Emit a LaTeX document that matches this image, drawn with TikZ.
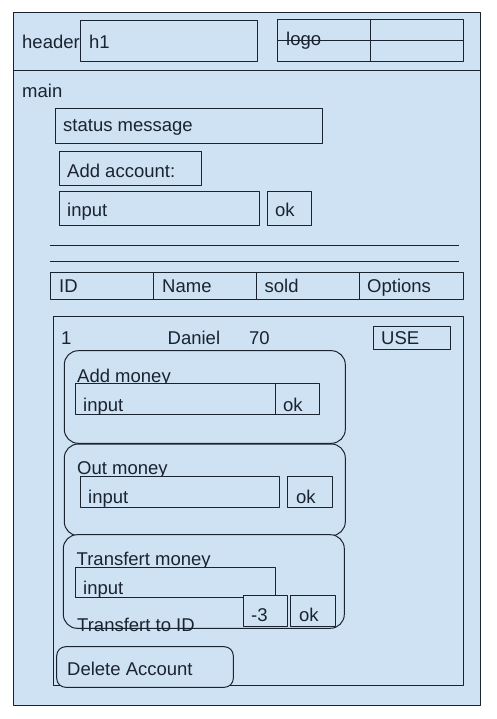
\documentclass[tikz,border=0pt]{standalone}
\usepackage{fontspec}
\setmainfont{Liberation Sans}
\definecolor{paneblue}{HTML}{CFE2F3}
\definecolor{ink}{HTML}{1A2330}
\tikzset
{
  panel/.style={draw=ink,fill=paneblue,line width=1pt},
  roundpanel/.style={panel,rounded corners=14pt},
  rule/.style={draw=ink,line width=1pt},
  txt/.style={anchor=base west,inner sep=0pt,text=ink,font=\fontsize{18.5}{22}\selectfont}
}

\begin{document}
\begin{tikzpicture}[x=1pt,y=-1pt,line join=round]
  \useasboundingbox (0,0) rectangle (496,719);
  % page frame
  \draw[panel] (13,13) rectangle (480,705);
  \draw[rule] (13,70.7) -- (480,70.7);
  % header
  \node[txt] (header) at (22,49) {header};
  \draw[panel] (80.3,20.3) rectangle (257.3,61.3);
  \node[txt] (title) at (89,49) {h1};
  \draw[panel] (277.3,19.7) rectangle (463.3,61.3);
  \node[txt] (logo) at (286,46) {logo};
  \draw[rule] (277.3,40.3) -- (463.3,40.3);
  \draw[rule] (370.3,19.7) -- (370.3,61.3);
  % main
  \node[txt] (main) at (22,97.3) {main};
  \draw[panel] (55.3,108.3) rectangle (322.7,143.3);
  \node[txt] (status) at (63,131.7) {status message};
  \draw[panel] (59.3,151.7) rectangle (201.3,185.3);
  \node[txt] (addacc) at (67,177.3) {Add account:};
  \draw[panel] (59.3,191.7) rectangle (259.3,225.3);
  \node[txt] (accinput) at (67,216) {input};
  \draw[panel] (267.3,191.7) rectangle (311.3,225.3);
  \node[txt] (accok) at (275,216) {ok};
  \draw[rule] (49.7,245.3) -- (459.3,245.3);
  \draw[rule] (49.7,261.3) -- (459.3,261.3);
  % table head
  \draw[panel] (50.3,272.3) rectangle (463.3,299);
  \foreach \x in {153.3,256.3,359.3}
    \draw[rule] (\x,272.3) -- (\x,299);
  \node[txt] (colid) at (59,292.3) {ID};
  \node[txt] (colname) at (162,292.3) {Name};
  \node[txt] (colsold) at (264.5,292.3) {sold};
  \node[txt] (colopt) at (367,292.3) {Options};
  % account row
  \draw[panel] (53.3,316.3) rectangle (463.3,685.3);
  \node[txt] (rowid) at (61,344) {1};
  \node[txt] (rowname) at (167.5,344) {Daniel};
  \node[txt] (rowsold) at (249,344) {70};
  \draw[panel] (373.3,326.3) rectangle (450.3,349.3);
  \node[txt] (use) at (381,344) {USE};
  % add money
  \draw[roundpanel] (64.3,350.7) rectangle (345.3,443.3);
  \node[txt] (addmoney) at (77,382) {Add money};
  \draw[panel] (75.7,383.3) rectangle (319.3,414.3);
  \draw[rule] (275.3,383.3) -- (275.3,414.3);
  \node[txt] (addinput) at (83,411.7) {input};
  \node[txt] (addok) at (283,411.7) {ok};
  % out money
  \draw[roundpanel] (64.3,444) rectangle (345.3,535.7);
  \node[txt] (outmoney) at (77,474.3) {Out money};
  \draw[panel] (80,476.3) rectangle (279.3,507.3);
  \node[txt] (outinput) at (88,503.3) {input};
  \draw[panel] (287.3,476.3) rectangle (332.3,507.3);
  \node[txt] (outok) at (296,503.3) {ok};
  % transfert money
  \draw[roundpanel] (63.3,534.7) rectangle (344.3,628.3);
  \node[txt] (trmoney) at (76.5,565) {Transfert money};
  \draw[panel] (75.3,567.3) rectangle (275.7,597.3);
  \node[txt] (trinput) at (83,594) {input};
  \node[txt] (trto) at (77,631) {Transfert to ID};
  \draw[panel] (243.3,595.3) rectangle (287.3,626.3);
  \node[txt] (trid) at (251,621.7) {-3};
  \draw[panel] (290.7,595.3) rectangle (335.3,626.3);
  \node[txt] (trok) at (299,621.7) {ok};
  % delete
  \draw[panel,rounded corners=9pt] (56.7,646.7) rectangle (233.3,687.3);
  \node[txt] (delete) at (67,675) {Delete Account};
\end{tikzpicture}
\end{document}
